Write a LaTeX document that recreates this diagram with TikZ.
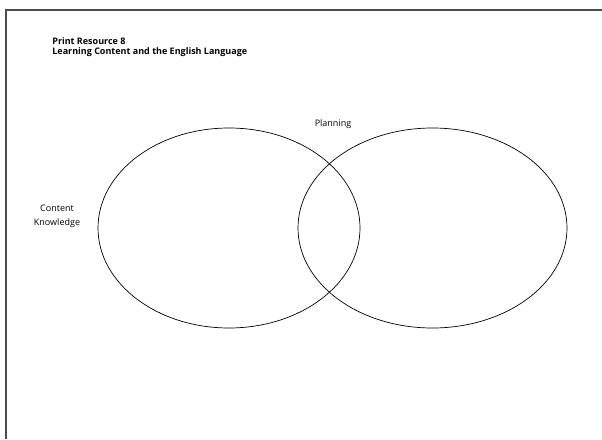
\documentclass[tikz,border=0pt]{standalone}
\usepackage{fontspec}
\setmainfont{Open Sans}

\begin{document}
\begin{tikzpicture}[x=1pt, y=-1pt, line width=0.7pt]
\useasboundingbox (0,0) rectangle (602,439);

% frame
\draw[black!70, line width=1.4pt] (602,10) -- (6,10) -- (6,439);

\node[anchor=north west, align=left, font=\fontsize{9}{10.5}\selectfont\bfseries, inner sep=0pt] (title) at (52,37)
  {Print Resource 8\\Learning Content and the English Language};

\draw (229,228) ellipse (131 and 100);
\draw (432.5,228) ellipse (134.5 and 100);

\node[font=\fontsize{9}{10}\selectfont] (plan) at (333,124) {Planning};
\node[align=center, font=\fontsize{9}{14}\selectfont] (know) at (57,216) {Content\\Knowledge};

\end{tikzpicture}
\end{document}
